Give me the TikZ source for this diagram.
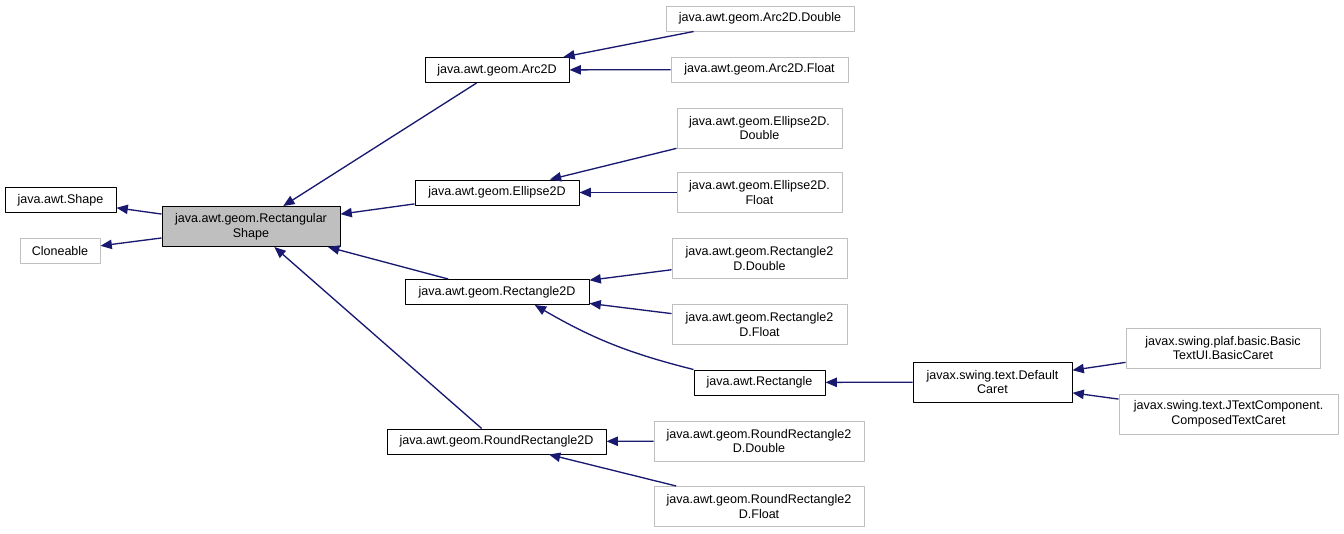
\documentclass[tikz,border=0pt]{standalone}
\usepackage{fontspec}
\setmainfont{Liberation Sans}
\usetikzlibrary{arrows.meta}
\definecolor{edgeblue}{RGB}{25,25,112}
\definecolor{boxgray}{RGB}{191,191,191}

\begin{document}
\begin{tikzpicture}[x=0.75pt,y=-0.75pt,>={Triangle[length=8.5pt,width=7pt]},line join=round,
  cls/.style={draw=black,line width=0.75pt,fill=white,align=center,inner sep=1pt,minimum height=18.75pt,font=\fontsize{9.4}{11}\selectfont},
  ext/.style={cls,draw=boxgray},
  two/.style={minimum height=30pt},
  inh/.style={->,draw=edgeblue,line width=1pt}]
\useasboundingbox (0,0) rectangle (1344,533);
\node[cls,minimum width=83.25pt] (shape) at (60.5,200) {java.awt.Shape};
\node[ext,minimum width=60pt] (clone) at (60,251) {Cloneable};
\node[cls,two,fill=boxgray,minimum width=133.5pt] (rshape) at (251,226.5) {java.awt.geom.Rectangular\\Shape};
\node[cls,minimum width=108pt] (arc) at (497,70) {java.awt.geom.Arc2D};
\node[ext,minimum width=141pt] (arcd) at (760,18.5) {java.awt.geom.Arc2D.Double};
\node[ext,minimum width=132.75pt] (arcf) at (759.5,69.5) {java.awt.geom.Arc2D.Float};
\node[cls,minimum width=123pt] (ell) at (497,192.5) {java.awt.geom.Ellipse2D};
\node[ext,two,minimum width=123.75pt] (elld) at (759.5,128) {java.awt.geom.Ellipse2D.\\Double};
\node[ext,two,minimum width=123.75pt] (ellf) at (759.5,192.5) {java.awt.geom.Ellipse2D.\\Float};
\node[cls,minimum width=138pt] (rect2d) at (497,292) {java.awt.geom.Rectangle2D};
\node[ext,two,minimum width=131.25pt] (rectd) at (759.5,258.5) {java.awt.geom.Rectangle2\\D.Double};
\node[ext,two,minimum width=131.25pt] (rectf) at (759.5,324.5) {java.awt.geom.Rectangle2\\D.Float};
\node[cls,minimum width=98.25pt] (rect) at (759.5,382.5) {java.awt.Rectangle};
\node[cls,two,minimum width=119.25pt] (caret) at (992.5,382) {javax.swing.text.Default\\Caret};
\node[ext,two,minimum width=145.5pt] (bcaret) at (1223,348) {javax.swing.plaf.basic.Basic\\TextUI.BasicCaret};
\node[ext,two,minimum width=164.25pt] (ccaret) at (1228.5,414) {javax.swing.text.JTextComponent.\\ComposedTextCaret};
\node[cls,minimum width=164.25pt] (rrect) at (496.5,441.5) {java.awt.geom.RoundRectangle2D};
\node[ext,two,minimum width=157.5pt] (rrectd) at (759,441) {java.awt.geom.RoundRectangle2\\D.Double};
\node[ext,two,minimum width=157.5pt] (rrectf) at (759,506.5) {java.awt.geom.RoundRectangle2\\D.Float};
% inheritance edges, child -> parent
\draw[inh] (rshape) -- (shape);
\draw[inh] (rshape) -- (clone);
\draw[inh] (arc) -- (rshape);
\draw[inh] (ell) -- (rshape);
\draw[inh] (rect2d) -- (rshape);
\draw[inh] (rrect) -- (rshape);
\draw[inh] (arcd) -- (arc);
\draw[inh] (arcf) -- (arc);
\draw[inh] (elld) -- (ell);
\draw[inh] (ellf) -- (ell);
\draw[inh] (rectd) -- (rect2d);
\draw[inh] (rectf) -- (rect2d);
\draw[inh] (rect.north west) to[bend left=8] (rect2d.-19);
\draw[inh] (caret) -- (rect);
\draw[inh] (bcaret) -- (caret);
\draw[inh] (ccaret) -- (caret);
\draw[inh] (rrectd) -- (rrect);
\draw[inh] (rrectf) -- (rrect);
\end{tikzpicture}
\end{document}
